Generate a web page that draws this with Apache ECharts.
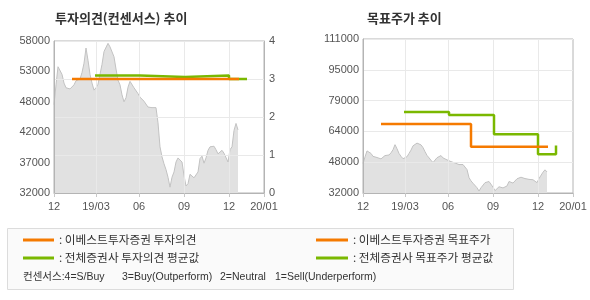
<!DOCTYPE html>
<html>
<head>
<meta charset="utf-8">
<script src="https://cdn.jsdelivr.net/npm/echarts@6/dist/echarts.min.js"></script>
<style>
html,body{margin:0;padding:0;background:#fff;}
#chart{width:590px;height:300px;}
</style>
</head>
<body>
<div id="chart"></div>
<script>
// x positions are trading-day slots (0..210); tick labels sit on these slots
const dayCount = 211;
const tickIndex = [0, 42, 85, 130, 175, 210];
const tickLabels = ['12', '19/03', '06', '09', '12', '20/01'];

// closing price, one value every 2 slots starting at slot 0
const priceStep = 2;
const prices = [
  47100, 50500, 53600, 53400, 52300, 50800, 50000, 50200, 49800, 49500,
  50500, 51200, 51500, 51500, 52600, 54200, 56800, 54700, 52300, 50800,
  49600, 50000, 50600, 52300, 54000, 56200, 56500, 57600, 57000, 56700,
  55300, 53200, 51300, 50500, 48800, 47600, 48300, 50100, 51100, 51200,
  50000, 49800, 49000, 48400, 48100, 47700, 47400, 46700, 46600, 46600,
  46600, 46600, 44000, 39900, 38200, 37000, 36000, 34700, 33000, 34700,
  35600, 37300, 38000, 37900, 37300, 35000, 33200, 33600, 35200, 35300,
  34600, 34300, 35600, 37900, 38300, 37100, 38000, 39300, 39900, 40100,
  40000, 39400, 38700, 39000, 39300, 38800, 38700, 37300, 39400, 39900,
  42700, 43900, 42800
];

// investment opinion (1..4 scale)
const ebestOpinionX = [18, 185];
const ebestOpinion = [3, 3];
const avgOpinionX = [41, 86, 131, 175, 193];
const avgOpinion = [3.09, 3.05, 3.09, 3.0, 3.0];

// target price
const ebestTargetX = [18, 108, 185];
const ebestTarget = [67400, 55700, 55700];
const avgTargetX = [41, 86, 131, 175, 193];
const avgTarget = [73500, 72000, 62200, 51900, 56400];

const leftPriceMin = 32000, leftPriceMax = 58000;
const rightPriceMin = 32000, rightPriceMax = 111000;

const consensusNotes = ['컨센서스:4=S/Buy', '3=Buy(Outperform)', '2=Neutral', '1=Sell(Underperform)'];

const ORANGE = '#f57a00';
const GREEN = '#7ab800';
const GRID = '#e9e9e9';
const AXIS = '#b4b4b4';
const LBL = { fontFamily: 'Liberation Sans', fontSize: 11, color: '#555' };
const KR = 'Noto Sans CJK KR';

const categories = Array.from({length: dayCount}, (_, i) => String(i));
const isTick = (i) => tickIndex.indexOf(i) >= 0;
const labelOf = (v, i) => { const k = tickIndex.indexOf(i); return k >= 0 ? tickLabels[k] : ''; };
const pairs = (xs, ys, off) => xs.map((x, i) => [x, ys[i] - (off || 0)]);

function xAxisFor(gi) {
  return {
    type: 'category', gridIndex: gi, data: categories, boundaryGap: false, z: 3,
    axisLine: { lineStyle: { color: AXIS } },
    axisTick: { show: true, interval: (i) => isTick(i), length: 4, lineStyle: { color: '#c8c8c8' } },
    axisLabel: Object.assign({ interval: (i) => isTick(i), formatter: labelOf, margin: 8 }, LBL),
    splitLine: { show: true, interval: (i) => isTick(i) && i > 0 && i < dayCount - 1, lineStyle: { color: GRID } }
  };
}

const notePos = [23, 122, 220, 275];

const chart = echarts.init(document.getElementById('chart'), null, { renderer: 'canvas' });
chart.setOption({
  animation: false,
  title: [
    { text: '투자의견(컨센서스) 추이', left: 55, top: 12, padding: 0, textStyle: { fontFamily: KR, fontSize: 13, fontWeight: 'bold', color: '#333' } },
    { text: '목표주가 추이', left: 367, top: 12, padding: 0, textStyle: { fontFamily: KR, fontSize: 13, fontWeight: 'bold', color: '#333' } }
  ],
  grid: [
    { left: 54, top: 41, width: 210, height: 152, show: true, borderColor: AXIS, borderWidth: 1, backgroundColor: 'transparent' },
    { left: 363, top: 39, width: 210, height: 154, show: true, borderColor: AXIS, borderWidth: 1, backgroundColor: 'transparent' }
  ],
  xAxis: [xAxisFor(0), xAxisFor(1)],
  yAxis: [
    { type: 'value', gridIndex: 0, position: 'left', min: 0, max: leftPriceMax - leftPriceMin, interval: (leftPriceMax - leftPriceMin) / 5, z: 3,
      axisLine: { show: true, lineStyle: { color: AXIS } }, axisTick: { show: false }, splitLine: { show: false },
      axisLabel: Object.assign({ margin: 4, formatter: (v) => String(Math.round((v + leftPriceMin) / 1000) * 1000) }, LBL) },
    { type: 'value', gridIndex: 0, position: 'right', min: 0, max: 4, interval: 1, z: 3,
      axisLine: { show: true, lineStyle: { color: AXIS } }, axisTick: { show: false },
      splitLine: { show: true, lineStyle: { color: GRID } },
      axisLabel: Object.assign({ margin: 5 }, LBL) },
    { type: 'value', gridIndex: 1, position: 'left', min: 0, max: rightPriceMax - rightPriceMin, interval: (rightPriceMax - rightPriceMin) / 5, z: 3,
      axisLine: { show: true, lineStyle: { color: AXIS } }, axisTick: { show: false },
      splitLine: { show: true, lineStyle: { color: GRID } },
      axisLabel: Object.assign({ margin: 4, formatter: (v) => String(Math.round((v + rightPriceMin) / 1000) * 1000) }, LBL) }
  ],
  legend: [
    { left: 23, top: 233, padding: 0, orient: 'vertical', itemWidth: 31, itemHeight: 3, itemGap: 4, icon: 'rect', selectedMode: false,
      data: ['이베스트투자증권 투자의견', '전체증권사 투자의견 평균값'], formatter: ': {name}',
      textStyle: { fontFamily: KR, fontSize: 11.7, color: '#333', lineHeight: 14 } },
    { left: 316, top: 233, padding: 0, orient: 'vertical', itemWidth: 32, itemHeight: 3, itemGap: 4, icon: 'rect', selectedMode: false,
      data: ['이베스트투자증권 목표주가', '전체증권사 목표주가 평균값'], formatter: ': {name}',
      textStyle: { fontFamily: KR, fontSize: 11.7, color: '#333', lineHeight: 14 } }
  ],
  graphic: [
    { type: 'rect', z: -10, shape: { x: 7.5, y: 228.5, width: 506, height: 61 }, style: { fill: '#fafafa', stroke: '#dcdcdc', lineWidth: 1 } }
  ].concat(consensusNotes.map((t, i) => ({
    type: 'text', x: notePos[i], y: 277, style: { text: t, font: '10.5px "Liberation Sans", "Noto Sans CJK KR"', fill: '#333', verticalAlign: 'middle' }
  }))),
  series: [
    { name: 'price-left', type: 'line', xAxisIndex: 0, yAxisIndex: 0, z: 1, symbol: 'none', silent: true,
      data: prices.map((p, i) => [i * priceStep, p - leftPriceMin]),
      lineStyle: { color: '#c2c2c2', width: 1 }, areaStyle: { color: '#e1e1e1', opacity: 1 } },
    { name: '이베스트투자증권 투자의견', type: 'line', xAxisIndex: 0, yAxisIndex: 1, z: 5, symbol: 'none',
      data: pairs(ebestOpinionX, ebestOpinion), itemStyle: { color: ORANGE }, lineStyle: { color: ORANGE, width: 2.5 } },
    { name: '전체증권사 투자의견 평균값', type: 'line', xAxisIndex: 0, yAxisIndex: 1, z: 4, symbol: 'none', step: 'end',
      data: pairs(avgOpinionX, avgOpinion), itemStyle: { color: GREEN }, lineStyle: { color: GREEN, width: 2.5 } },
    { name: 'price-right', type: 'line', xAxisIndex: 1, yAxisIndex: 2, z: 1, symbol: 'none', silent: true,
      data: prices.map((p, i) => [i * priceStep, p - rightPriceMin]),
      lineStyle: { color: '#c2c2c2', width: 1 }, areaStyle: { color: '#e1e1e1', opacity: 1 } },
    { name: '이베스트투자증권 목표주가', type: 'line', xAxisIndex: 1, yAxisIndex: 2, z: 5, symbol: 'none', step: 'end',
      data: pairs(ebestTargetX, ebestTarget, rightPriceMin), itemStyle: { color: ORANGE }, lineStyle: { color: ORANGE, width: 2.5 } },
    { name: '전체증권사 목표주가 평균값', type: 'line', xAxisIndex: 1, yAxisIndex: 2, z: 4, symbol: 'none', step: 'end',
      data: pairs(avgTargetX, avgTarget, rightPriceMin), itemStyle: { color: GREEN }, lineStyle: { color: GREEN, width: 2.5 } }
  ]
});
</script>
</body>
</html>
